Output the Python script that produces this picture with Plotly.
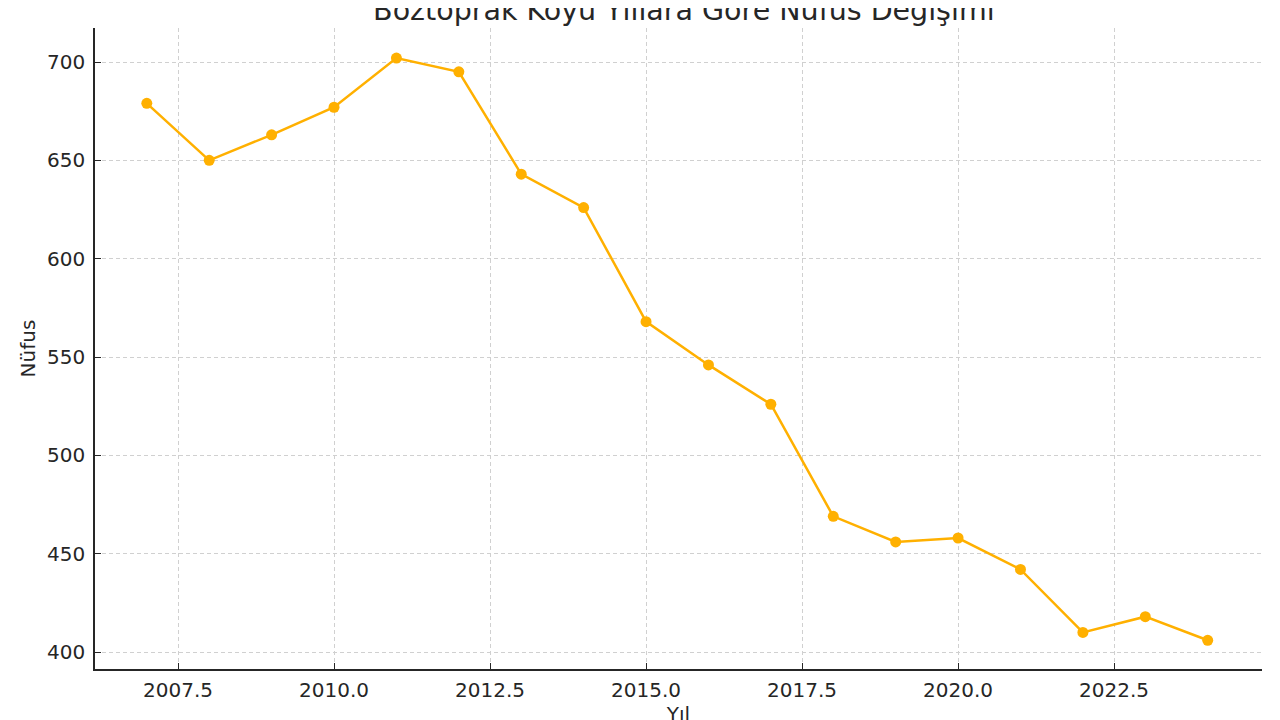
from plotly import graph_objects as go

# Boztoprak village population by year
years = [2007, 2008, 2009, 2010, 2011, 2012, 2013, 2014, 2015,
         2016, 2017, 2018, 2019, 2020, 2021, 2022, 2023, 2024]
population = [679, 650, 663, 677, 702, 695, 643, 626, 568,
              546, 526, 469, 456, 458, 442, 410, 418, 406]

x_ticks = [2007.5, 2010.0, 2012.5, 2015.0, 2017.5, 2020.0, 2022.5]
y_ticks = [400, 450, 500, 550, 600, 650, 700]

LINE_COLOR = '#FFB000'
TEXT_COLOR = '#262626'
GRID_COLOR = '#d0d0d0'

fig = go.Figure()
fig.add_trace(go.Scatter(
    x=years,
    y=population,
    mode='lines+markers',
    line={'color': LINE_COLOR, 'width': 2.5},
    marker={'color': LINE_COLOR, 'size': 11},
    showlegend=False,
))

axis_common = dict(
    automargin=False,
    showline=True,
    linecolor=TEXT_COLOR,
    linewidth=1.6,
    ticks='inside',
    ticklen=6,
    tickwidth=1.2,
    tickcolor=TEXT_COLOR,
    showgrid=True,
    gridcolor=GRID_COLOR,
    griddash='4px,3px',
    gridwidth=1,
    zeroline=False,
    tickfont={'size': 20, 'color': TEXT_COLOR},
)

fig.update_xaxes(
    **axis_common,
    range=[2006.17, 2024.87],
    tickvals=x_ticks,
    ticktext=[f'{v:.1f}' for v in x_ticks],
    ticklabelstandoff=2,
    title={'text': 'Yıl', 'font': {'size': 20, 'color': TEXT_COLOR}, 'standoff': 4},
)
fig.update_yaxes(
    **axis_common,
    range=[391.4, 717.3],
    tickvals=y_ticks,
    ticklabelstandoff=4,
    title={'text': 'Nüfus', 'font': {'size': 20, 'color': TEXT_COLOR}, 'standoff': 6},
)

# page body adds ~8px offset, so margins are shifted to compensate
fig.update_layout(
    width=1280,
    height=720,
    paper_bgcolor='white',
    plot_bgcolor='white',
    font={'family': 'DejaVu Sans', 'color': TEXT_COLOR},
    title={
        'text': 'Boztoprak Köyü Yıllara Göre Nüfus Değişimi',
        'font': {'size': 28.5, 'color': TEXT_COLOR},
        'x': 0.528,
        'xanchor': 'center',
        'y': 0.997,
        'yanchor': 'middle',
        'automargin': False,
    },
    margin={'l': 87, 'r': 26, 't': 20, 'b': 59, 'autoexpand': False},
)

fig.write_html("out.html")
